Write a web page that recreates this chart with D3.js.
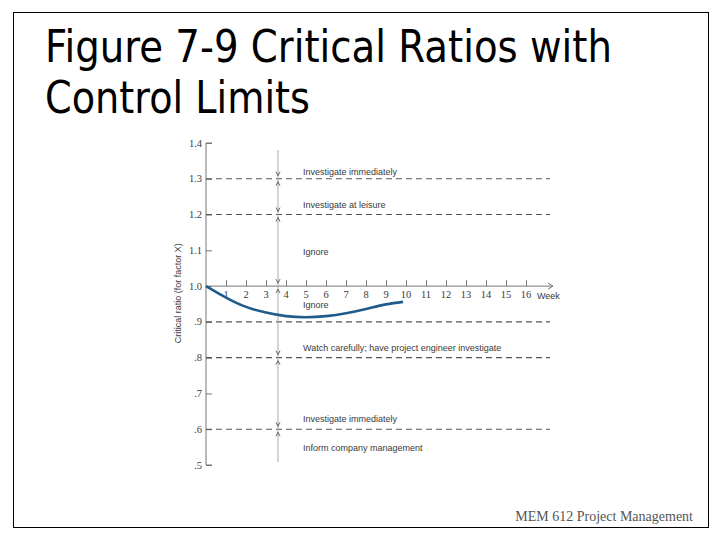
<!DOCTYPE html>
<html><head><meta charset="utf-8">
<script src="https://cdn.jsdelivr.net/npm/d3@7"></script>
<style>body{margin:0;background:#fff}svg{display:block}</style>
</head><body>
<svg id="c" width="720" height="540"></svg>
<script>
const titleLines = ["Figure 7-9 Critical Ratios with", "Control Limits"];
const footer = "MEM 612 Project Management";
const yTicks = [0.5,0.6,0.7,0.8,0.9,1.0,1.1,1.2,1.3,1.4];
const yTickLabels = [".5",".6",".7",".8",".9","1.0","1.1","1.2","1.3","1.4"];
const xTicks = [1,2,3,4,5,6,7,8,9,10,11,12,13,14,15,16];
const weeks = [0,1,2,3,4,5,6,7,8,9,9.85];
const ratios = [1.0,0.968,0.942,0.926,0.916,0.913,0.916,0.924,0.936,0.949,0.956];
const limits = [1.3,1.2,0.9,0.8,0.6];
const markers = [1.3,1.2,1.0,0.8,0.6];
const zoneLabels = ["Investigate immediately","Investigate at leisure","Ignore","Ignore","Watch carefully; have project engineer investigate","Investigate immediately","Inform company management"];
const zoneLabelY = [1.31,1.218,1.087,0.939,0.819,0.620,0.539];
const markWeek = 3.6;

const svg = d3.select("#c");
svg.append("rect").attr("x",13.5).attr("y",12.5).attr("width",695).attr("height",515)
  .attr("fill","none").attr("stroke","#000").attr("stroke-width",1);

const tl = [567, 265];
titleLines.forEach((t,i)=>{
  svg.append("text").attr("x",45).attr("y",62+i*50.5).text(t)
    .attr("font-family","DejaVu Sans").attr("font-size",45).attr("fill","#000")
    .attr("textLength",tl[i]).attr("lengthAdjust","spacingAndGlyphs");
});

svg.append("text").attr("x",693).attr("y",521).attr("text-anchor","end").text(footer)
  .attr("font-family","Liberation Serif").attr("font-size",14).attr("fill","#555");

const x = d3.scaleLinear().domain([0,16]).range([206,526]);
const y = d3.scaleLinear().domain([0.5,1.4]).range([465,143]);
const axisCol = "#777", txtCol = "#3a3a3a";

// y axis
const ya = svg.append("g").attr("transform",`translate(${x(0)},0)`)
  .call(d3.axisRight(y).tickValues(yTicks).tickSize(6).tickFormat(""));
ya.select(".domain").attr("stroke",axisCol).attr("d",`M6,${y(1.4)}H0V${y(0.5)}H6`);
ya.selectAll(".tick line").attr("stroke",axisCol);
svg.append("g").selectAll("text").data(yTicks).join("text")
  .attr("x",x(0)-4).attr("y",d=>y(d)+3.5).attr("text-anchor","end")
  .attr("font-family","Liberation Serif").attr("font-size",10.5).attr("fill",txtCol)
  .text((d,i)=>yTickLabels[i]);

// x axis
const xa = svg.append("g").attr("transform",`translate(0,${y(1.0)})`)
  .call(d3.axisTop(x).tickValues(xTicks).tickSize(6).tickFormat(""));
xa.select(".domain").attr("stroke",axisCol).attr("d",`M${x(0)},0H${x(17.35)}`);
xa.selectAll(".tick line").attr("stroke",axisCol);
svg.append("path").attr("d",`M${x(17.35)-5},${y(1.0)-3}L${x(17.35)},${y(1.0)}L${x(17.35)-5},${y(1.0)+3}`)
  .attr("fill","none").attr("stroke",axisCol);
svg.append("g").selectAll("text").data(xTicks).join("text")
  .attr("x",d=>x(d)).attr("y",y(1.0)+12).attr("text-anchor","middle")
  .attr("font-family","Liberation Serif").attr("font-size",10.5).attr("fill",txtCol).text(d=>d);
svg.append("text").attr("x",x(16.55)).attr("y",y(1.0)+13).text("Week")
  .attr("font-family","Liberation Sans Narrow, Liberation Sans").attr("font-size",9).attr("fill",txtCol);

// y label
svg.append("text").attr("transform",`translate(181,${y(0.98)}) rotate(-90)`).attr("text-anchor","middle")
  .attr("font-family","Liberation Sans Narrow, Liberation Sans").attr("font-size",9).attr("fill",txtCol)
  .text("Critical ratio (for factor X)");

// limits
svg.append("g").selectAll("line").data(limits).join("line")
  .attr("x1",x(0)).attr("x2",x(17.2)).attr("y1",d=>y(d)).attr("y2",d=>y(d))
  .attr("stroke","#555").attr("stroke-width",1.1).attr("stroke-dasharray","6,4");

// vertical line
svg.append("line").attr("x1",x(markWeek)).attr("x2",x(markWeek)).attr("y1",y(1.38)).attr("y2",y(0.508))
  .attr("stroke","#aaa").attr("stroke-width",1);
const mg = svg.append("g").attr("stroke","#555").attr("fill","none").attr("stroke-width",0.9);
markers.forEach(v=>{
  const cx = x(markWeek), cy = y(v);
  mg.append("path").attr("d",`M${cx-2},${cy-7}L${cx},${cy-3}L${cx+2},${cy-7}M${cx-2},${cy+7}L${cx},${cy+3}L${cx+2},${cy+7}`);
});

// zone labels
svg.append("g").selectAll("text").data(zoneLabels).join("text")
  .attr("x",303).attr("y",(d,i)=>y(zoneLabelY[i])).text(d=>d)
  .attr("font-family","Liberation Sans Narrow, Liberation Sans").attr("font-size",9).attr("fill",txtCol);

// curve
const line = d3.line().x((d,i)=>x(weeks[i])).y(d=>y(d)).curve(d3.curveNatural);
svg.append("path").attr("d",line(ratios)).attr("fill","none").attr("stroke","#1f5c8c").attr("stroke-width",2.6);
</script>
</body></html>
